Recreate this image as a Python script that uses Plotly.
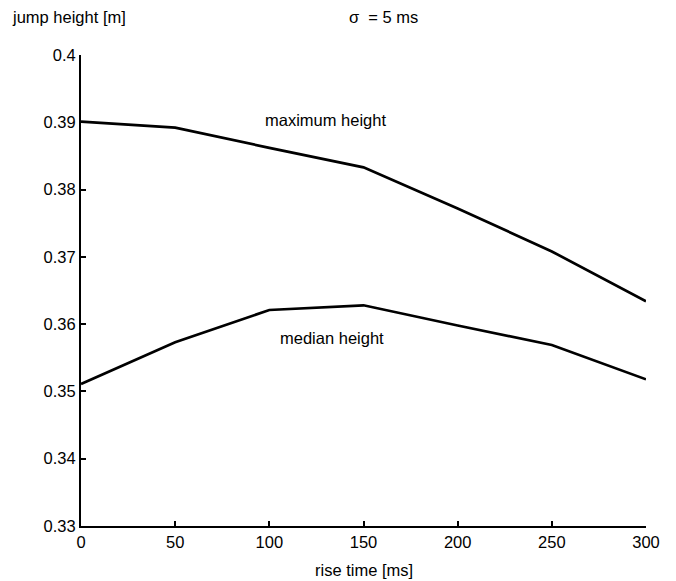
import plotly.graph_objects as go

rise_time = [0, 50, 100, 150, 200, 250, 300]
max_height = [0.3901, 0.3892, 0.3862, 0.3833, 0.3772, 0.3708, 0.3634]
median_height = [0.3511, 0.3573, 0.3621, 0.3628, 0.3598, 0.3569, 0.3518]

x_ticks = [0, 50, 100, 150, 200, 250, 300]
y_ticks = [0.33, 0.34, 0.35, 0.36, 0.37, 0.38, 0.39, 0.40]
y_ticktext = ["0.33", "0.34", "0.35", "0.36", "0.37", "0.38", "0.39", "0.4"]

FONT = "Liberation Sans, Arial, sans-serif"
TXT = 16.5

fig = go.Figure()
fig.add_trace(go.Scatter(x=rise_time, y=max_height, mode="lines",
                         line=dict(color="black", width=2.7), showlegend=False))
fig.add_trace(go.Scatter(x=rise_time, y=median_height, mode="lines",
                         line=dict(color="black", width=2.7), showlegend=False))

fig.update_layout(
    width=676, height=581,
    margin=dict(l=81, r=30, t=55, b=55),
    paper_bgcolor="white", plot_bgcolor="white",
    font=dict(family=FONT, size=16, color="black"),
    xaxis=dict(range=[0, 300], tickvals=x_ticks, ticks="inside", ticklen=5,
               tickcolor="black", tickwidth=1.5, showline=True, linecolor="black",
               linewidth=2, showgrid=False, zeroline=False,
               tickfont=dict(size=16.5)),
    yaxis=dict(range=[0.33, 0.40], tickvals=y_ticks, ticktext=y_ticktext,
               ticks="inside", ticklen=5, tickcolor="black", tickwidth=1.5,
               showline=True, linecolor="black", linewidth=2, showgrid=False,
               zeroline=False, tickfont=dict(size=16.5)),
    annotations=[
        dict(text="jump height [m]", xref="paper", yref="paper",
             x=-0.1257, y=1.0807, xanchor="left", yanchor="middle",
             showarrow=False, font=dict(size=TXT)),
        dict(text="σ  = 5 ms", xref="paper", yref="paper",
             x=0.4708, y=1.0807, xanchor="left", yanchor="middle",
             showarrow=False, font=dict(size=TXT)),
        dict(text="maximum height", xref="x", yref="y", x=130, y=0.3903,
             showarrow=False, font=dict(size=TXT)),
        dict(text="median height", xref="x", yref="y", x=133.5, y=0.358,
             showarrow=False, font=dict(size=TXT)),
        dict(text="rise time [ms]", xref="paper", yref="paper",
             x=0.5, y=-0.0934, xanchor="center", yanchor="middle",
             showarrow=False, font=dict(size=TXT)),
    ],
)

fig.write_html("out.html", config={"displayModeBar": False},
               post_script="document.body.style.margin='0';document.body.style.overflow='hidden';")
